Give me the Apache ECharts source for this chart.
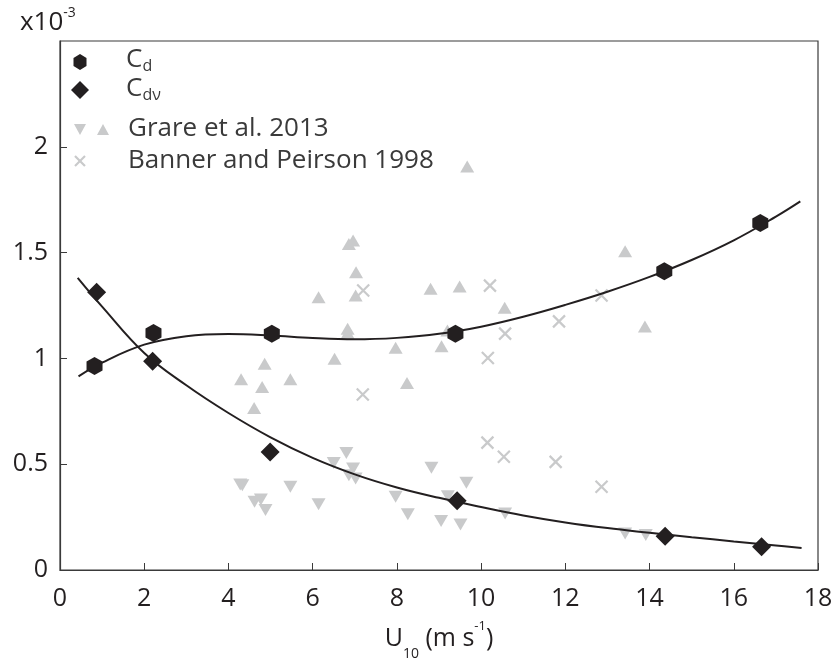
<!DOCTYPE html>
<html>
<head>
<meta charset="utf-8">
<script src="https://cdn.jsdelivr.net/npm/echarts@6/dist/echarts.min.js"></script>
<style>
  html, body { margin: 0; padding: 0; background: #fff; }
  #chart { width: 835px; height: 659px; }
</style>
</head>
<body>
<div id="chart"></div>
<script>
// Drag coefficient measurements (values in units of 1e-3)
const cdPoints = [[0.82, 0.964], [2.22, 1.12], [5.03, 1.117], [9.39, 1.117], [14.35, 1.412], [16.63, 1.64]];
const cdvPoints = [[0.87, 1.313], [2.2, 0.987], [4.99, 0.558], [9.43, 0.327], [14.37, 0.160], [16.66, 0.110]];

// Fitted curves
const cdFit = [[0.44, 0.915], [1, 0.98], [2, 1.065], [3, 1.105], [4, 1.115], [5, 1.108], [6, 1.096], [7, 1.09],
  [8, 1.097], [9, 1.116], [10, 1.15], [11, 1.197], [12, 1.253], [13, 1.315], [14, 1.385], [15, 1.465],
  [16, 1.558], [17, 1.67], [17.58, 1.742]];
const cdvFit = [[0.42, 1.381], [1, 1.245], [2, 1.026], [3, 0.873], [4, 0.742], [5, 0.627], [6, 0.53], [7, 0.452],
  [8, 0.39], [9, 0.341], [10, 0.298], [11, 0.258], [12, 0.225], [13, 0.198], [14, 0.176], [15, 0.155],
  [16, 0.135], [17, 0.116], [17.61, 0.104]];

// Grare et al. 2013
const grareUp = [[4.30, 0.901], [4.86, 0.975], [4.80, 0.865], [4.61, 0.766], [5.47, 0.901], [6.14, 1.289],
  [6.52, 0.998], [6.83, 1.140], [6.83, 1.12], [6.86, 1.541], [6.96, 1.557], [7.03, 1.407], [7.02, 1.297],
  [7.97, 1.050], [8.24, 0.884], [8.80, 1.329], [9.06, 1.058], [9.49, 1.340], [9.20, 1.132], [10.56, 1.239],
  [9.67, 1.907], [13.42, 1.506], [13.89, 1.151]];
const grareDown = [[4.28, 0.404], [4.33, 0.40], [4.62, 0.322], [4.77, 0.333], [4.88, 0.283], [5.47, 0.393],
  [6.14, 0.311], [6.50, 0.506], [6.80, 0.553], [6.86, 0.448], [6.96, 0.480], [7.02, 0.433], [7.97, 0.346],
  [8.26, 0.263], [8.82, 0.483], [9.05, 0.231], [9.21, 0.349], [9.51, 0.215], [9.65, 0.412], [10.57, 0.267],
  [13.42, 0.173], [13.91, 0.165]];

// Banner and Peirson 1998
const bannerPoints = [[7.20, 1.321], [7.19, 0.829], [10.21, 1.344], [10.57, 1.117], [10.16, 1.002],
  [11.85, 1.175], [10.15, 0.602], [10.54, 0.535], [11.77, 0.511], [12.86, 1.297], [12.86, 0.393]];

const xTicks = [0, 2, 4, 6, 8, 10, 12, 14, 16, 18];
const yTicks = [0, 0.5, 1, 1.5, 2];

const INK = '#231f20';
const TEXT = '#3a3a3a';
const GREY = '#c9cacb';
const FONT = '"Open Sans", "Noto Sans", sans-serif';
const HEX = 'path://M0,-1 L0.866,-0.5 L0.866,0.5 L0,1 L-0.866,0.5 L-0.866,-0.5 Z';
const CROSS = 'path://M0,0 L10,10 M10,0 L0,10';

const chart = echarts.init(document.getElementById('chart'), null, { renderer: 'canvas' });

chart.setOption({
  animation: false,
  backgroundColor: '#ffffff',
  grid: { left: 60, right: 17, top: 41, bottom: 89, show: true, borderColor: TEXT, borderWidth: 1.2,
    containLabel: false, outerBoundsMode: 'none' },
  xAxis: {
    type: 'value', min: 0, max: 18, interval: 2,
    axisLine: { show: true, onZero: false, lineStyle: { color: TEXT, width: 1.2 } },
    axisTick: { show: true, inside: true, length: 7, lineStyle: { color: TEXT }, customValues: xTicks },
    axisLabel: { fontFamily: FONT, fontSize: 25, color: INK, margin: 16, customValues: xTicks },
    splitLine: { show: false },
    name: '{b|U}{s|10}{b| (m s}{t|-1}{b|)}',
    nameLocation: 'middle', nameGap: 56,
    nameTextStyle: {
      rich: {
        b: { fontFamily: FONT, fontSize: 25, color: INK },
        s: { fontFamily: FONT, fontSize: 14, color: INK, verticalAlign: 'bottom', padding: [0, 0, -10, 0] },
        t: { fontFamily: FONT, fontSize: 13, color: INK, verticalAlign: 'top', padding: [-6, 0, 0, 0] }
      }
    }
  },
  yAxis: {
    type: 'value', min: 0, max: 2.5, interval: 0.5,
    axisLine: { show: true, onZero: false, lineStyle: { color: TEXT, width: 1.2 } },
    axisTick: { show: true, inside: true, length: 7, lineStyle: { color: TEXT }, customValues: yTicks },
    axisLabel: { fontFamily: FONT, fontSize: 25, color: INK, margin: 12, customValues: yTicks },
    splitLine: { show: false }
  },
  graphic: [
    {
      type: 'text', left: 20, top: 6,
      style: {
        text: '{b|x10}{t|-3}',
        rich: {
          b: { fontFamily: FONT, fontSize: 26, fill: INK },
          t: { fontFamily: FONT, fontSize: 14, fill: INK, verticalAlign: 'top', padding: [-4, 0, 0, 0] }
        }
      }
    },
    // legend entries
    { type: 'polygon', shape: { points: [[80, 54], [86.5, 58], [86.5, 66], [80, 70], [73.5, 66], [73.5, 58]] },
      style: { fill: INK } },
    { type: 'text', x: 126, y: 45, style: {
      text: '{b|C}{s|d}', rich: {
        b: { fontFamily: FONT, fontSize: 26, fill: TEXT },
        s: { fontFamily: FONT, fontSize: 16, fill: TEXT, padding: [13, 0, 0, 0] } } } },
    { type: 'polygon', shape: { points: [[80, 81], [89, 90], [80, 99], [71, 90]] }, style: { fill: INK } },
    { type: 'text', x: 126, y: 74, style: {
      text: '{b|C}{s|dν}', rich: {
        b: { fontFamily: FONT, fontSize: 26, fill: TEXT },
        s: { fontFamily: FONT, fontSize: 16, fill: TEXT, padding: [13, 0, 0, 0] } } } },
    { type: 'polygon', shape: { points: [[74, 124], [86, 124], [80, 135]] }, style: { fill: GREY } },
    { type: 'polygon', shape: { points: [[97, 135], [109, 135], [103, 124]] }, style: { fill: GREY } },
    { type: 'text', x: 128, y: 129, style: { text: 'Grare et al. 2013', fontFamily: FONT, fontSize: 26,
      fill: TEXT, verticalAlign: 'middle' } },
    { type: 'polyline', shape: { points: [[75, 156], [85, 166]] }, style: { stroke: GREY, lineWidth: 2.2 } },
    { type: 'polyline', shape: { points: [[85, 156], [75, 166]] }, style: { stroke: GREY, lineWidth: 2.2 } },
    { type: 'text', x: 128, y: 161, style: { text: 'Banner and Peirson 1998', fontFamily: FONT, fontSize: 26,
      fill: TEXT, verticalAlign: 'middle' } }
  ],
  series: [
    { name: 'Grare up', type: 'scatter', data: grareUp, symbol: 'triangle', symbolSize: [14, 12],
      itemStyle: { color: GREY, opacity: 1 }, z: 1 },
    { name: 'Grare down', type: 'scatter', data: grareDown, symbol: 'triangle', symbolRotate: 180,
      symbolSize: [14, 12], itemStyle: { color: GREY, opacity: 1 }, z: 1 },
    { name: 'Banner and Peirson 1998', type: 'scatter', data: bannerPoints, symbol: CROSS, symbolSize: 12,
      itemStyle: { color: 'transparent', borderColor: GREY, borderWidth: 2.2, opacity: 1 }, z: 1 },
    { name: 'Cd fit', type: 'line', data: cdFit, smooth: 0.4, showSymbol: false,
      lineStyle: { color: INK, width: 2 }, z: 3 },
    { name: 'Cdv fit', type: 'line', data: cdvFit, smooth: 0.4, showSymbol: false,
      lineStyle: { color: INK, width: 2 }, z: 3 },
    { name: 'Cd', type: 'scatter', data: cdPoints, symbol: HEX, symbolSize: [16, 18],
      itemStyle: { color: INK, opacity: 1 }, z: 4 },
    { name: 'Cdv', type: 'scatter', data: cdvPoints, symbol: 'diamond', symbolSize: [19, 19],
      itemStyle: { color: INK, opacity: 1 }, z: 4 }
  ]
});
</script>
</body>
</html>
